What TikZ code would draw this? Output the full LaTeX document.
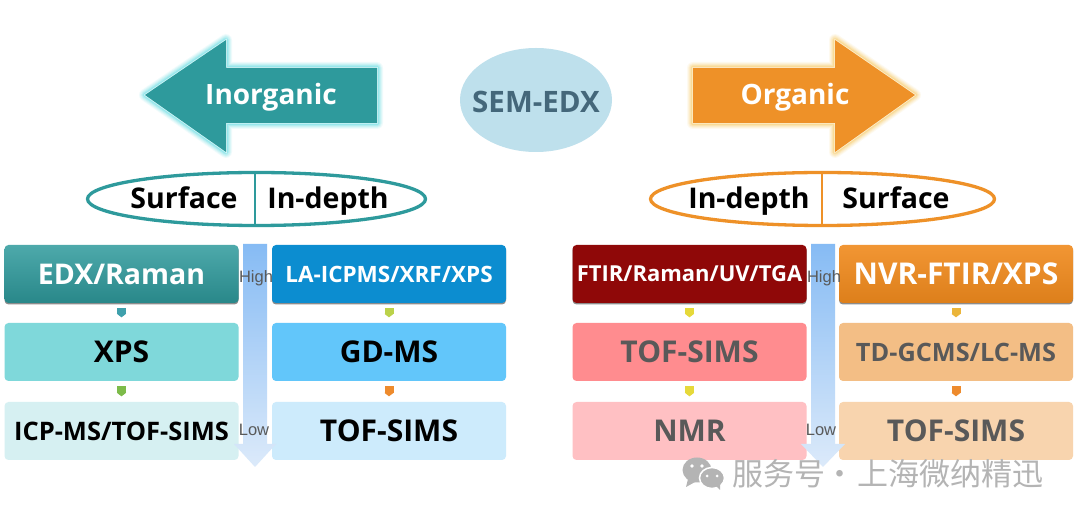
\documentclass[tikz,border=0pt]{standalone}
\usepackage{fontspec}
\setmainfont{Open Sans}[BoldFont={Open Sans Bold}]
\newfontfamily\labelfont{Liberation Sans}
\newfontfamily\cjkfont{Noto Sans CJK SC}
\usetikzlibrary{arrows.meta,shadows,calc}
\definecolor{teal1}{HTML}{2E9A9C}
\definecolor{orange1}{HTML}{EE9128}
\definecolor{glowteal}{HTML}{6FE0E6}
\definecolor{gloworange}{HTML}{F8CE70}
\definecolor{darktext}{HTML}{595959}
\definecolor{wm}{HTML}{B4B4B4}
\tikzset{
  x=1pt,y=-1pt,
  box/.style={rectangle,rounded corners=4pt,minimum width=234pt,minimum height=58pt,inner sep=0pt,font=\bfseries\fontsize{#1}{#1}\selectfont,align=center,text height=#1*0.714pt,text depth=0pt},
  box/.default=30,
  topbox/.style={drop shadow={shadow xshift=0pt,shadow yshift=-1.5pt,opacity=.45,fill=black}},
  hop/.style={draw=#1,line width=9pt,-{Triangle[length=3.5pt,width=9pt]},shorten <=5pt,shorten >=5.5pt},
  head/.style={font=\bfseries\fontsize{28.5}{28.5}\selectfont,text=black,inner sep=0pt,text height=21pt,text depth=6pt},
  scale label/.style={font=\labelfont\fontsize{16.5}{16.5}\selectfont,text=darktext,inner sep=0pt},
  arrow label/.style={font=\bfseries\fontsize{28}{28}\selectfont,text=white,inner sep=0pt,text height=21pt,text depth=6pt},
}
\newcommand{\ArrowGlow}[2]{%
  \foreach \w/\o in {12/.10,10/.14,8/.18,6/.25,4/.4}{\draw[#2,line width=\w pt,opacity=\o,line join=round] #1;}
  \draw[white!70!#2,line width=1.5pt,line join=miter] #1;
}
\begin{document}
\begin{tikzpicture}
\useasboundingbox (0,0) rectangle (1080,518);
\fill[white] (0,0) rectangle (1080,518);

% big arrows
\def\leftarrowpath{(145,95) -- (226,40) -- (226,68) -- (377,68) -- (377,123) -- (226,123) -- (226,152) -- cycle}
\ArrowGlow{\leftarrowpath}{glowteal}
\fill[teal1] \leftarrowpath;
\node[arrow label] (inorg) at (271,97) {Inorganic};

\def\rightarrowpath{(915,95) -- (835,40) -- (835,68) -- (693,68) -- (693,123) -- (835,123) -- (835,152) -- cycle}
\ArrowGlow{\rightarrowpath}{gloworange}
\fill[orange1] \rightarrowpath;
\node[arrow label] (org) at (795,97) {Organic};

% centre
\definecolor{semfill}{HTML}{BEE0EC}
\definecolor{semtext}{HTML}{44677A}
\fill[semfill] (536,100) ellipse [x radius=76,y radius=52];
\node[font=\bfseries\fontsize{29.5}{29.5}\selectfont,text=semtext,inner sep=0pt] (sem) at (536,102) {SEM-EDX};

% ovals
\draw[teal1,line width=3.3pt,fill=white] (256.5,199) ellipse [x radius=169,y radius=26.5];
\coordinate (ld1) at (255,172.5); \coordinate (ld2) at (255,225.5);
\draw[teal1,line width=2.5pt] (ld1) -- (ld2);
\node[head] (lsurf) at (184,201) {Surface};
\node[head] (ldepth) at (328,201) {In-depth};

\draw[orange1,line width=3.3pt,fill=white] (822.5,199) ellipse [x radius=172,y radius=26.5];
\coordinate (rd1) at (822,172.5); \coordinate (rd2) at (822,225.5);
\draw[orange1,line width=2.5pt] (rd1) -- (rd2);
\node[head] (rdepth) at (749,201) {In-depth};
\node[head] (rsurf) at (896,201) {Surface};

% boxes
\definecolor{a1}{HTML}{7FD8DA}\definecolor{a2}{HTML}{D6F0F2}
\definecolor{b1}{HTML}{0C8DD0}\definecolor{b2}{HTML}{62C6FA}\definecolor{b3}{HTML}{CDEBFC}
\definecolor{c1}{HTML}{8F0808}\definecolor{c2}{HTML}{FF8C8F}\definecolor{c3}{HTML}{FFC0C3}
\definecolor{d1}{HTML}{F08A1D}\definecolor{d2}{HTML}{F3BE85}\definecolor{d3}{HTML}{F8D4AE}

\node[box=28.5,topbox,top color=teal1!85!white,middle color=teal1,bottom color=teal1!88!black,text=white] (edx) at (121.5,274) {EDX/Raman};
\node[box,fill=a1,text=black] (xps) at (121.5,352) {XPS};
\node[box=25.5,fill=a2,text=black] (icp) at (121.5,431) {ICP-MS/TOF-SIMS};

\node[box=22.5,topbox,fill=b1,text=white] (la) at (389,274) {LA-ICPMS/XRF/XPS};
\node[box,fill=b2,text=black] (gd) at (389,352) {GD-MS};
\node[box,fill=b3,text=black] (tofb) at (389,431) {TOF-SIMS};

\node[box=22,topbox,fill=c1,text=white] (ftir) at (689.5,274) {FTIR/Raman/UV/TGA};
\node[box,fill=c2,text=darktext] (tofc) at (689.5,352) {TOF-SIMS};
\node[box,fill=c3,text=darktext] (nmr) at (689.5,431) {NMR};

\node[box,topbox,top color=d1!90!white,middle color=d1,bottom color=d1!92!black,text=white] (nvr) at (956,274) {NVR-FTIR/XPS};
\node[box=25.3,fill=d2,text=darktext] (td) at (956,352) {TD-GCMS/LC-MS};
\node[box,fill=d3,text=darktext] (tofd) at (956,431) {TOF-SIMS};

% hops
\definecolor{h1}{HTML}{3FA0AC}\definecolor{h2}{HTML}{7DBB4A}
\definecolor{h3}{HTML}{BBD24A}\definecolor{h4}{HTML}{EE8B2D}
\definecolor{h5}{HTML}{E6D93A}\definecolor{h6}{HTML}{EBB53A}
\draw[hop=h1] (edx) -- (xps);
\draw[hop=h2] (xps) -- (icp);
\draw[hop=h3] (la) -- (gd);
\draw[hop=h4] (gd) -- (tofb);
\draw[hop=h5] (ftir) -- (tofc);
\draw[hop=h5] (tofc) -- (nmr);
\draw[hop=h6] (nvr) -- (td);
\draw[hop=h4] (td) -- (tofd);

% scale arrows
\definecolor{sca}{HTML}{86BBF4}\definecolor{scb}{HTML}{DCEAFA}
\shade[top color=sca,bottom color=scb] (243,244) -- (267,244) -- (267,444) -- (276,444) -- (255,467) -- (234,444) -- (243,444) -- cycle;
\shade[top color=sca,bottom color=scb] (811,244) -- (835,244) -- (835,444) -- (845,444) -- (823,467) -- (801,444) -- (811,444) -- cycle;
\node[scale label] (hl) at (256,278) {High};
\node[scale label] (ll) at (254,430) {Low};
\node[scale label] (hr) at (824,278) {High};
\node[scale label] (lr) at (821,430) {Low};

% watermark
\fill[wm] (697,470) ellipse [x radius=14.5,y radius=12.5];
\fill[wm] (688,479) -- (686,487) -- (695,482) -- cycle;
\draw[white,line width=1.5pt,fill=wm] (712,478) ellipse [x radius=12.5,y radius=10.5];
\fill[wm] (716,486) -- (720,490) -- (720,484) -- cycle;
\fill[white] (692,466) circle (1.8) (702,466) circle (1.8) (707,476) circle (1.5) (717,476) circle (1.5);
\node[font=\cjkfont\fontsize{31}{31}\selectfont,text=wm,anchor=west,inner sep=0pt] (wmtext) at (732,474) {服务号\hspace{-8pt} · \hspace{-4.5pt}上海微纳精迅};
\end{tikzpicture}
\end{document}
